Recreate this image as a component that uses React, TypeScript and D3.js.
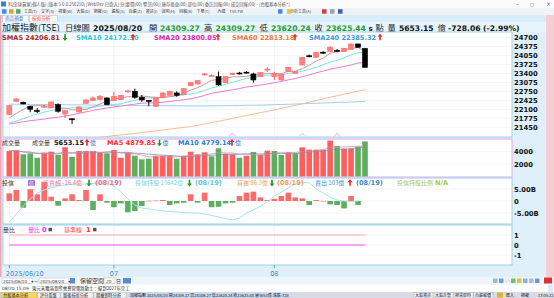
import React from 'react';
import * as d3 from 'd3';

const W = 554;
const H = 298;

// ---------- data ----------
const opens = [21909, 22395, 22358, 22213, 22060, 22200, 22152, 22271, 21934, 21760, 22006, 22322, 22417, 22453, 22514, 22417, 22453, 22740, 22757, 22540, 22425, 22213, 22540, 22612, 22696, 22634, 22960, 23022, 23360, 23310, 23287, 23069, 23395, 23420, 23450, 23385, 23287, 23540, 23287, 23167, 23468, 23410, 23711, 24045, 23991, 24175, 24194, 24240, 24194, 24281, 24473, 24309.27];
const highs = [22250, 22500, 22380, 22230, 22152, 22270, 22380, 22320, 22070, 21765, 22200, 22460, 22570, 22620, 22540, 22732, 22630, 22810, 22852, 22620, 22430, 22530, 22710, 22770, 22757, 22870, 23090, 23160, 23420, 23370, 23468, 23300, 23430, 23460, 23490, 23432, 23450, 23628, 23468, 23390, 23640, 23480, 24000, 24090, 24170, 24210, 24400, 24290, 24330, 24490, 24480, 24309.27];
const lows = [21890, 22380, 22280, 21996, 21970, 22160, 22140, 21980, 21790, 21571, 21990, 22310, 22400, 22420, 22250, 22400, 22440, 22700, 22489, 22370, 22213, 22200, 22530, 22600, 22560, 22620, 22950, 23010, 23330, 23290, 22950, 23050, 23350, 23370, 23400, 23069, 23280, 23457, 23167, 23131, 23460, 23400, 23700, 23990, 23980, 24110, 24190, 24180, 24180, 24270, 24340, 23620.24];
const closes = [22235, 22478, 22297, 22104, 22054, 22215, 22369, 22032, 22060, 21753, 22188, 22442, 22514, 22576, 22271, 22576, 22612, 22770, 22540, 22442, 22420, 22514, 22696, 22757, 22612, 22852, 23069, 23142, 23385, 23330, 22986, 23287, 23410, 23400, 23440, 23167, 23432, 23560, 23410, 23374, 23628, 23468, 23991, 24030, 24157, 24165, 24353, 24225, 24317, 24473, 24353.5, 23625.44];
const volumes = [4114, 4228, 3577, 3740, 3024, 3838, 4000, 3463, 4715, 3187, 4114, 4114, 4114, 3838, 3740, 4276, 3024, 3838, 3350, 2764, 2862, 3350, 3350, 3350, 2862, 3350, 4000, 3577, 3900, 3252, 4553, 3675, 3577, 3024, 3350, 3943, 3463, 4170, 4114, 3463, 3900, 3740, 4700, 4330, 4330, 4330, 5800, 4927, 4500, 4500, 4813, 5653.15];
const sma5 = [21790, 21950, 22100, 22220, 22234, 22230, 22208, 22155, 22146, 22086, 22081, 22095, 22192, 22295, 22398, 22476, 22510, 22561, 22554, 22588, 22557, 22537, 22522, 22566, 22600, 22686, 22797, 22886, 23012, 23156, 23182, 23226, 23280, 23280, 23302, 23343, 23370, 23404, 23406, 23389, 23481, 23488, 23574, 23698, 23855, 23962, 24139, 24186, 24243, 24307, 24344, 24207];
const sma10 = [21600, 21680, 21760, 21850, 21930, 22000, 22060, 22100, 22130, 22160, 22155, 22152, 22173, 22221, 22242, 22278, 22303, 22376, 22424, 22493, 22516, 22524, 22542, 22560, 22594, 22622, 22667, 22704, 22789, 22878, 22934, 23012, 23084, 23148, 23231, 23262, 23298, 23340, 23341, 23345, 23409, 23427, 23487, 23550, 23622, 23721, 23813, 23880, 23970, 24080, 24153, 24172];
const sma20 = [21572, 21610, 21650, 21690, 21716, 21750, 21790, 21814, 21860, 21900, 21960, 22010, 22060, 22110, 22150, 22190, 22220, 22255, 22290, 22326, 22335, 22337, 22357, 22390, 22418, 22450, 22485, 22540, 22607, 22685, 22725, 22768, 22813, 22854, 22912, 22942, 22983, 23022, 23066, 23112, 23173, 23221, 23285, 23349, 23426, 23491, 23555, 23609, 23656, 23713, 23782, 23800];
const sma60 = [20700, 20730, 20760, 20790, 20820, 20850, 20880, 20910, 20940, 20970, 21000, 21030, 21060, 21090, 21115, 21145, 21172, 21200, 21230, 21260, 21290, 21320, 21350, 21385, 21415, 21445, 21473, 21520, 21570, 21620, 21670, 21720, 21775, 21825, 21875, 21930, 21980, 22030, 22080, 22135, 22190, 22245, 22300, 22360, 22420, 22480, 22540, 22595, 22650, 22705, 22760, 22813];
const sma240 = [22290, 22287, 22284, 22281, 22278, 22275, 22272, 22270, 22267, 22264, 22262, 22259, 22257, 22254, 22252, 22250, 22247, 22245, 22242, 22240, 22238, 22236, 22234, 22232, 22230, 22228, 22227, 22226, 22225, 22228, 22231, 22235, 22239, 22243, 22248, 22252, 22257, 22262, 22270, 22278, 22286, 22295, 22304, 22313, 22322, 22331, 22340, 22349, 22358, 22367, 22376, 22385];
const trustNet = [32, 46, -28, 49, 28, 80, 18, -20, 11, 28, 4, 46, -37.5, 28, -7, -26, -10, -47, -42, -21, 1, 2, 4, -17, -10, -7, 28, -7, 35, -26, -24, -10, -7, 21, 35, 39, 15, 4, 9, 21, 35, 15, 11, -17, 4, 0.5, -14, -17, -31, 21, -16.4];
const trustHold = [12820, 13133, 13446, 13720, 13955, 14072, 14151, 14229, 14268, 14288, 14307, 14307, 14327, 14346, 14346, 14229, 13994, 13720, 13485, 13368, 13329, 13290, 13251, 13231, 13212, 13192, 13172, 13172, 13133, 13075, 13016, 12957, 12899, 12977, 13172, 13290, 13446, 13603, 13838, 13994, 14151, 14307, 14385, 14346, 14111, 13955, 13799, 13681, 13642, 13622, 13642];
const ratioVals = [0];
const baseVals = [1];

const priceTicks = [24700, 24375, 24050, 23725, 23400, 23075, 22750, 22425, 22100, 21775, 21450];
const volTicks = [4000, 2000];
const chipTicks = [50, 0, -50];
const chipTickLabels = ['5.00B', '0', '-5.00B'];
const ratioTicks = [1, 0, -1];
const monthTicks = [0, 15, 38];
const monthLabels = ['2025/06/10', '07', '08'];
const signalIdx = [32, 42, 47];
const signalColors = ['#f0a0d8', '#8fe0ea', '#f0a0d8'];

// ---------- styles ----------
const CJK = '"Noto Sans CJK TC", "Noto Sans", sans-serif';
const NUM = '"DejaVu Sans", Verdana, sans-serif';
const GREEN = '#1f9e1f';

function Arrow({ x, y, up }: { x: number; y: number; up: boolean }) {
  const c = up ? '#ff2020' : '#1a9a1a';
  const d = up
    ? `M${x - 2.4},${y - 0.6} L${x},${y - 3.6} L${x + 2.4},${y - 0.6} L${x + 0.8},${y - 0.6} L${x + 0.8},${y + 3} L${x - 0.8},${y + 3} L${x - 0.8},${y - 0.6} Z`
    : `M${x - 2.4},${y + 0.6} L${x},${y + 3.6} L${x + 2.4},${y + 0.6} L${x + 0.8},${y + 0.6} L${x + 0.8},${y - 3} L${x - 0.8},${y - 3} L${x - 0.8},${y + 0.6} Z`;
  return <path d={d} fill={c} />;
}

function T(props: any) {
  const { x, y, s = 6, c = '#222', f = CJK, w = 'normal', a = 'start', children } = props;
  return (
    <text x={x} y={y} fontSize={s} fill={c} fontFamily={f} fontWeight={w} textAnchor={a}>
      {children}
    </text>
  );
}

export default function App() {
  const n = closes.length;
  const x = d3.scaleLinear().domain([0, n - 1]).range([9.3, 365]);
  const yP = d3.scaleLinear().domain([21450, 24700]).range([127.3, 37.7]);
  const yV = d3.scaleLinear().domain([0, 4000]).range([176.5, 151.7]);
  const yC = d3.scaleLinear().domain([-50, 50]).range([213, 189]);
  const yH = d3.scaleLinear().domain([12742, 14542]).range([224, 178]);
  const yR = d3.scaleLinear().domain([-1, 1]).range([255, 235]);

  const lineP = d3.line<number>().x((_, i) => x(i)).y((d) => yP(d));
  const lineV = d3.line<number>().x((_, i) => x(i)).y((d) => yV(d));
  const lineH = d3.line<number>().x((_, i) => x(i)).y((d) => yH(d));

  const maV = (k: number) => volumes.map((_, i) => {
    const s = volumes.slice(Math.max(0, i - k + 1), i + 1);
    return d3.mean(s) as number;
  });
  const volMA5 = maV(5);
  const volMA10 = maV(10);

  const PL = 3, PR = 512;
  const bw = 5;
  const HN = 7.6; // header number font size

  return (
    <svg width={W} height={H} style={{ position: 'fixed', left: 0, top: 0, display: 'block' }}
      xmlns="http://www.w3.org/2000/svg">
      <defs>
        <clipPath id="mainClip"><rect x={PL} y={32} width={PR - PL} height={105} /></clipPath>
        <clipPath id="chipClip"><rect x={PL} y={178} width={PR - PL} height={46} /></clipPath>
      </defs>
      <rect x={0} y={0} width={W} height={H} fill="#dff0fb" />
      {/* title bar */}
      <rect x={0} y={0} width={W} height={8} fill="#fbfbfb" />
      <rect x={1} y={1.5} width={5} height={5} fill="#3d7fd0" />
      <T x={8} y={5.6} s={4.3} c="#555">XQ全球贏家(個人版) [版本 5.0.0.250210] [WebDev 已登入] 分[要聞(00) 警訊(00)] 庫存損益(00) 部位(00) 委託回報(00) 成交回報(00) - [台股基本分析*]</T>
      <T x={516} y={6} s={6} c="#666" f={NUM}>–</T>
      <T x={530} y={6} s={5} c="#666" f={NUM}>◻</T>
      <T x={546} y={6} s={6} c="#666" f={NUM}>×</T>
      {/* menu bar */}
      <rect x={0} y={8} width={W} height={7} fill="#eef3f8" />
      {[2, 9, 16].map((ix, k) => <rect key={k} x={ix} y={9.2} width={4.5} height={4.5} fill={['#4a8ad8', '#e0a030', '#5aaa5a'][k]} />)}
      <T x={24} y={13} s={4} c="#444">工具(T)　文字(S)　視窗(W)　大盤(D)　期權(O)　選股(S)　自選(Z)　資訊(I)　說明(H)　回報(R)　下單(T)　　內建　TSE.TW</T>
      <T x={290} y={13} s={4} c="#444">分析工具(A)</T>
      <rect x={278} y={9.2} width={4.5} height={4.5} fill="#4a8ad8" />
      <rect x={287} y={9.2} width={4.5} height={4.5} fill="#f0c040" />
      <rect x={322} y={9.2} width={4.5} height={4.5} fill="#d04040" />
      <rect x={330} y={9.2} width={4.5} height={4.5} fill="#a0a0a0" />
      <rect x={338} y={9.2} width={4.5} height={4.5} fill="#3a60c0" />
      {/* tab row */}
      <rect x={0} y={15} width={W} height={7} fill="#d9ecf9" />
      <rect x={2.5} y={15.5} width={26} height={6.5} fill="#ffffff" stroke="#9cc6e4" strokeWidth={0.5} />
      <T x={5} y={20.2} s={4.6} c="#3a6fd0">商品摘要</T>
      <rect x={29.5} y={15.5} width={28} height={6.5} fill="#ffffff" stroke="#f0a0b0" strokeWidth={0.5} />
      <T x={32} y={20.2} s={4.6} c="#e03a4a">技術分析</T>
      <rect x={546} y={15} width={8} height={262} fill="#f6cdd5" />
      <rect x={0} y={15} width={1.5} height={262} fill="#f0a4b4" />
      {/* header row */}
      <rect x={1.5} y={22} width={544.5} height={10} fill="#e6f4fd" />
      <T x={2} y={31} s={9} c="#222">加權指數(TSE)</T>
      <T x={65} y={30.8} s={8.3} c="#222">日線圖</T>
      <T x={93} y={30.6} s={HN + 0.2} c="#111" f={NUM} w="bold">2025/08/20</T>
      <T x={149} y={30.8} s={8.3} c="#222">開</T>
      <T x={160} y={30.6} s={HN} c={GREEN} f={NUM} w="bold">24309.27</T>
      <T x={204} y={30.8} s={8.3} c="#222">高</T>
      <T x={215.5} y={30.6} s={HN} c={GREEN} f={NUM} w="bold">24309.27</T>
      <T x={259.5} y={30.8} s={8.3} c="#222">低</T>
      <T x={271} y={30.6} s={HN} c={GREEN} f={NUM} w="bold">23620.24</T>
      <T x={314.5} y={30.8} s={8.3} c="#222">收</T>
      <T x={326} y={30.6} s={HN} c={GREEN} f={NUM} w="bold">23625.44</T>
      <T x={368.5} y={30.6} s={7} c="#111" f={NUM} w="bold">s</T>
      <T x={375.5} y={30.8} s={8.3} c="#222">點</T>
      <T x={387.5} y={30.8} s={8.3} c="#222">量</T>
      <T x={399} y={30.6} s={HN} c="#111" f={NUM} w="bold">5653.15</T>
      <T x={437.5} y={30.8} s={8.3} c="#222">億</T>
      <T x={448} y={30.6} s={HN} c="#111" f={NUM} w="bold">-728.06 (-2.99%)</T>

      {/* panels */}
      <rect x={PL} y={32} width={PR - PL} height={105} fill="#ffffff" stroke="#9fd0ec" strokeWidth={1} />
      <rect x={PL} y={139} width={PR - PL} height={38} fill="#ffffff" stroke="#e8a8ec" strokeWidth={1} />
      <rect x={PL} y={178} width={PR - PL} height={46} fill="#ffffff" stroke="#9fd0ec" strokeWidth={1} />
      <rect x={PL} y={225} width={PR - PL} height={40} fill="#ffffff" stroke="#9fd0ec" strokeWidth={1} />

      {/* grid lines */}
      {priceTicks.map((t) => (
        <line key={t} x1={PL + 1} x2={PR - 1} y1={yP(t)} y2={yP(t)} stroke="#f0f0f0" strokeWidth={0.7} />
      ))}
      {volTicks.map((t) => (
        <line key={t} x1={PL + 1} x2={PR - 1} y1={yV(t)} y2={yV(t)} stroke="#f0f0f0" strokeWidth={0.7} />
      ))}
      {chipTicks.map((t) => (
        <line key={t} x1={PL + 1} x2={PR - 1} y1={yC(t)} y2={yC(t)} stroke="#f0f0f0" strokeWidth={0.7} />
      ))}
      {ratioTicks.map((t) => (
        <line key={t} x1={PL + 1} x2={PR - 1} y1={yR(t)} y2={yR(t)} stroke="#f0f0f0" strokeWidth={0.7} />
      ))}
      {monthTicks.map((i) => (
        <g key={i}>
          <line x1={x(i)} x2={x(i)} y1={33} y2={136} stroke="#ececec" strokeWidth={0.7} />
          <line x1={x(i)} x2={x(i)} y1={140} y2={176} stroke="#ececec" strokeWidth={0.7} />
          <line x1={x(i)} x2={x(i)} y1={179} y2={223} stroke="#ececec" strokeWidth={0.7} />
          <line x1={x(i)} x2={x(i)} y1={226} y2={264} stroke="#ececec" strokeWidth={0.7} />
        </g>
      ))}

      {/* price panel */}
      <g clipPath="url(#mainClip)">
        <path d={lineP(sma240) || ''} fill="none" stroke="#9ccff0" strokeWidth={1} />
        <path d={lineP(sma60) || ''} fill="none" stroke="#f8bc98" strokeWidth={1} />
        <path d={lineP(sma20) || ''} fill="none" stroke="#f07ad0" strokeWidth={1} />
        <path d={lineP(sma10) || ''} fill="none" stroke="#7fe0ea" strokeWidth={1} />
        <path d={lineP(sma5) || ''} fill="none" stroke="#c99a9a" strokeWidth={1} />
        {closes.map((c, i) => {
          const o = opens[i];
          const up = c >= o;
          const top = yP(Math.max(o, c));
          const bot = yP(Math.min(o, c));
          return (
            <g key={i}>
              <line x1={x(i)} x2={x(i)} y1={yP(highs[i])} y2={yP(lows[i])} stroke={up ? '#ff5a5a' : '#000'} strokeWidth={1} />
              <rect x={x(i) - bw / 2} y={top} width={bw} height={Math.max(1, bot - top)}
                fill={up ? '#ff8080' : '#000'} stroke={up ? '#ff6a6a' : '#000'} strokeWidth={0.6} />
            </g>
          );
        })}
        {signalIdx.map((i, k) => (
          <path key={i} d={`M${x(i) - 3},136.5 L${x(i)},133 L${x(i) + 3},136.5`} fill="none" stroke={signalColors[k]} strokeWidth={0.9} />
        ))}
      </g>
      <T x={2} y={39.8} s={6.6} c="#a4232a" f={NUM} w="bold">SMA5 24206.81</T>
      <Arrow x={65} y={37.3} up={false} />
      <T x={76} y={39.8} s={6.6} c="#2cc6d6" f={NUM} w="bold">SMA10 24172.30</T>
      <Arrow x={133} y={37.3} up={true} />
      <T x={154} y={39.8} s={6.6} c="#e020b0" f={NUM} w="bold">SMA20 23800.05</T>
      <Arrow x={218} y={37.3} up={true} />
      <T x={232} y={39.8} s={6.6} c="#f07a3a" f={NUM} w="bold">SMA60 22813.18</T>
      <Arrow x={295} y={37.3} up={true} />
      <T x={309} y={39.8} s={6.6} c="#3a9ad9" f={NUM} w="bold">SMA240 22385.32</T>
      <Arrow x={380} y={37.3} up={true} />
      {priceTicks.map((t) => (
        <T key={t} x={514} y={yP(t) + 2.5} s={6.8} c="#111" f={NUM} w="bold">{t}</T>
      ))}

      {/* volume panel */}
      {volumes.map((v, i) => {
        const up = i === 0 ? true : closes[i] >= closes[i - 1];
        return (
          <rect key={i} x={x(i) - 2.8} y={yV(v)} width={5.6} height={yV(0) - yV(v)}
            fill={up ? '#ff5e5e' : '#5fae5f'} />
        );
      })}
      <path d={lineV(volMA10) || ''} fill="none" stroke="#6a8fc8" strokeWidth={0.9} opacity={0.85} />
      <path d={lineV(volMA5) || ''} fill="none" stroke="#d88a9a" strokeWidth={0.9} opacity={0.85} />
      <T x={2} y={145} s={6} c="#333">成交量</T>
      <T x={32} y={145} s={6} c="#333">成交量</T>
      <T x={54} y={145.2} s={6.6} c="#111" f={NUM} w="bold">5653.15</T>
      <Arrow x={87} y={142.7} up={true} />
      <T x={90} y={145} s={6} c="#3a6fd0">億</T>
      <T x={107} y={145.2} s={6.6} c="#ff2a2a" f={NUM} w="bold">MA5 4879.85</T>
      <Arrow x={159.5} y={142.7} up={false} />
      <T x={162.5} y={145} s={6} c="#3a6fd0">億</T>
      <T x={178} y={145.2} s={6.6} c="#2a7ad0" f={NUM} w="bold">MA10 4779.14</T>
      <Arrow x={232} y={142.7} up={true} />
      <T x={235} y={145} s={6} c="#3a6fd0">億</T>
      {volTicks.map((t) => (
        <T key={t} x={514} y={yV(t) + 2.5} s={6.8} c="#111" f={NUM} w="bold">{t}</T>
      ))}

      {/* investment trust panel */}
      <g clipPath="url(#chipClip)">
        {trustNet.map((v, i) => (
          <rect key={i} x={x(i) - 2.8} y={Math.min(yC(v), yC(0))} width={5.6}
            height={Math.max(0.6, Math.abs(yC(v) - yC(0)))} fill={v >= 0 ? '#ff6b6b' : '#5fae5f'} />
        ))}
        <path d={lineH(trustHold) || ''} fill="none" stroke="#a4e4ec" strokeWidth={1} />
      </g>
      <T x={2} y={185} s={6} c="#333">投信</T>
      <rect x={28} y={180} width={7} height={6} fill="#a070e0" rx={0.8} />
      <T x={29} y={185} s={5} c="#fff">信</T>
      <T x={43} y={185} s={6} c="#f37a96">買賣超 -16.4億</T>
      <Arrow x={89} y={182.8} up={false} />
      <T x={95} y={185.2} s={6.6} c="#f06a8a" f={NUM} w="bold">(08/19)</T>
      <T x={135} y={185} s={6} c="#82d2e2">投信持股 13642億</T>
      <Arrow x={189.5} y={182.8} up={false} />
      <T x={195} y={185.2} s={6.6} c="#60c4dc" f={NUM} w="bold">(08/19)</T>
      <T x={237} y={185} s={6} c="#f4a060">買進 86.3億</T>
      <Arrow x={272} y={182.8} up={false} />
      <T x={277} y={185.2} s={6.6} c="#f49a50" f={NUM} w="bold">(08/19)</T>
      <T x={315} y={185} s={6} c="#4a90c8">賣出 103億</T>
      <Arrow x={350} y={182.8} up={true} />
      <T x={356} y={185.2} s={6.6} c="#3a86c8" f={NUM} w="bold">(08/19)</T>
      <T x={397} y={185} s={6} c="#a8c850">投信持股比例</T>
      <T x={435} y={185.2} s={6.6} c="#a8c850" f={NUM} w="bold">N/A</T>
      {chipTicks.map((t, k) => (
        <T key={t} x={514} y={yC(t) + 2.5} s={6.8} c="#111" f={NUM} w="bold">{chipTickLabels[k]}</T>
      ))}

      {/* volume ratio panel */}
      <line x1={x(0)} x2={x(n - 1)} y1={yR(baseVals[0])} y2={yR(baseVals[0])} stroke="#f6a8b0" strokeWidth={1} />
      <line x1={x(0)} x2={x(n - 1)} y1={yR(ratioVals[0])} y2={yR(ratioVals[0])} stroke="#f050f0" strokeWidth={1.2} />
      <T x={3} y={231.5} s={6} c="#333">量比</T>
      <T x={28} y={231.5} s={6} c="#ff30ff">量比</T>
      <T x={42} y={231.8} s={6.6} c="#ff20ff" f={NUM} w="bold">0</T>
      <rect x={48.5} y={227.8} width={3.5} height={3.5} fill="#555" />
      <T x={64} y={231.5} s={6} c="#ff4040">基準線</T>
      <T x={86} y={231.8} s={6.6} c="#ff2020" f={NUM} w="bold">1</T>
      <rect x={93} y={227.8} width={3.5} height={3.5} fill="#555" />
      {ratioTicks.map((t) => (
        <T key={t} x={514} y={yR(t) + 2.5} s={6.8} c="#111" f={NUM} w="bold">{t}</T>
      ))}

      {/* x axis */}
      {monthTicks.map((i, k) => (
        <g key={i}>
          <line x1={x(i)} x2={x(i)} y1={265} y2={268.5} stroke="#4a90d0" strokeWidth={0.8} />
          <T x={k === 0 ? x(i) - 3.5 : x(i)} y={276} s={6.6} c="#3a8ad0" f={NUM} a={k === 0 ? 'start' : 'middle'}>{monthLabels[k]}</T>
        </g>
      ))}

      {/* control bar */}
      <rect x={0} y={277} width={546} height={7.5} fill="#eef6fc" />
      {[493, 499, 505, 511, 517, 523, 529, 535].map((ix, k) => (
        <rect key={ix} x={ix} y={278.5} width={4.5} height={4.5} fill={['#9ab8d8', '#6aa0d8', '#e8e8e8', '#70c070', '#e0c040', '#88b0e0', '#a0c0e0', '#6a9ad0'][k]} />
      ))}
      <rect x={544} y={277.5} width={8} height={6} fill="#e03030" />
      <rect x={2} y={278} width={30} height={5.5} fill="#fff" stroke="#a0a0a0" strokeWidth={0.4} />
      <T x={3} y={282.5} s={4.2} c="#333" f={NUM}>2025/06/10　▾</T>
      <T x={34} y={282.5} s={5} c="#333" f={NUM}>~</T>
      <rect x={39} y={278} width={30} height={5.5} fill="#fff" stroke="#a0a0a0" strokeWidth={0.4} />
      <T x={40} y={282.5} s={4.2} c="#333" f={NUM}>2025/08/20　▾</T>
      <rect x={70} y={278} width={5} height={5.5} fill="#5a8ad0" />
      <T x={80} y={283} s={6} c="#333">保留空間</T>
      <rect x={104} y={278} width={11} height={5.5} fill="#fff" stroke="#a0a0a0" strokeWidth={0.4} />
      <T x={106} y={282.5} s={4.2} c="#333" f={NUM}>20</T>
      <T x={116} y={282.8} s={5} c="#333">日</T>
      <rect x={123} y={278} width={8} height={5.5} fill="#5a8ad0" />
      {/* news row */}
      <rect x={0} y={284.5} width={W} height={7.5} fill="#ffffff" />
      <rect x={548} y={285} width={5} height={6.5} fill="#dce8f4" />
      <T x={2} y={290.3} s={4.4} c="#333" f={NUM}>08/20 15:09</T>
      <T x={32} y={290.3} s={4.4} c="#333">東元未獲滿意所需鼻管電路動土：擬到2027年完工</T>
      {/* task bar */}
      <rect x={0} y={292} width={W} height={6} fill="#d6dbe4" />
      <rect x={1} y={292.5} width={36} height={5.5} fill="#f6d860" stroke="#b09030" strokeWidth={0.3} />
      <T x={3} y={297} s={4.2} c="#222">台股基本分析</T>
      {[[38, '評分看盤', 22], [61, '盤後技術分析', 32], [94, '期權即時分析', 32]].map(([ix, s, w]: any) => (
        <g key={ix}>
          <rect x={ix} y={292.5} width={w} height={5.5} fill="#f4f4f4" stroke="#909090" strokeWidth={0.3} />
          <T x={ix + 2} y={297} s={4.2} c="#222">{s}</T>
        </g>
      ))}
      <rect x={128} y={292.5} width={160} height={5.5} fill="#c8d8ec" />
      <T x={130} y={297} s={4} c="#223">加權指數 2025/08/20 開24309.27 高24309.27 低23620.24 收23625.44 量5653億 漲跌-728</T>
      {[[414, '大盤資訊'], [434, '大盤走勢'], [454, '期貨即時'], [474, '自選報價']].map(([ix, s]: any) => (
        <g key={ix}>
          <rect x={ix} y={292.5} width={19} height={5.5} fill="#f4f4f4" stroke="#909090" strokeWidth={0.3} />
          <T x={ix + 1} y={297} s={4} c="#222">{s}</T>
        </g>
      ))}
      <rect x={497} y={292.5} width={6} height={5} fill="#e0b030" />
      <T x={506} y={297} s={4} c="#222">匯入</T>
      <T x={521} y={297} s={4} c="#222">期權</T>
      <T x={538} y={297} s={4} c="#222">17:05:22</T>
    </svg>
  );
}
